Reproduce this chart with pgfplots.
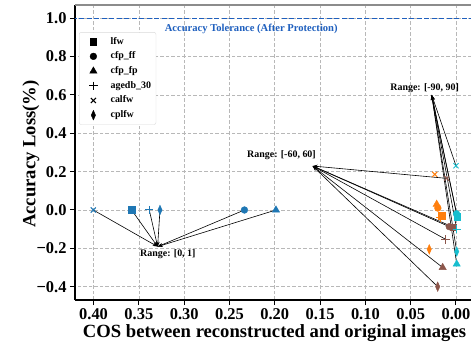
\documentclass[border=0pt]{standalone}
\usepackage{fontspec}
\setmainfont{Liberation Serif}
\usepackage{pgfplots}
\pgfplotsset{compat=1.18}
\usetikzlibrary{arrows.meta}
\definecolor{tblue}{HTML}{1F77B4}
\definecolor{torange}{HTML}{FF7F0E}
\definecolor{tbrown}{HTML}{8C564B}
\definecolor{tcyan}{HTML}{17BECF}
\definecolor{tolblue}{RGB}{30,95,190}
\pgfplotsset{
 msq/.style={only marks, mark=square*, mark size=3.3bp, forget plot},
 mci/.style={only marks, mark=*, mark size=3.4bp, forget plot},
 mtr/.style={only marks, mark=triangle*, mark size=4.2bp, forget plot},
 mpl/.style={only marks, mark=+, mark size=4.2bp, mark options={line width=1bp}, forget plot},
 mx/.style={only marks, mark=x, mark size=3.6bp, mark options={line width=1bp}, forget plot},
 mdi/.style={only marks, mark=diamond*, mark size=4.8bp, mark options={xscale=0.6}, forget plot},
 arr/.style={black, line width=0.6bp, -{Stealth[length=5bp,width=3.5bp]}, forget plot},
}
\begin{document}
\begin{tikzpicture}
\begin{axis}[name=ax, scale only axis, width=397bp, height=295bp,
 x dir=reverse, xmin=-0.01766, xmax=0.4205, ymin=-0.4695, ymax=1.0694,
 axis x line*=bottom, axis y line*=left,
 axis line style={black, line width=1.2bp},
 tick align=outside, major tick length=5bp, tick style={black, line width=1bp},
 xtick={0,0.05,0.1,0.15,0.2,0.25,0.3,0.35,0.4},
 xticklabels={0.00,0.05,0.10,0.15,0.20,0.25,0.30,0.35,0.40},
 ytick={-0.4,-0.2,0,0.2,0.4,0.6,0.8,1.0},
 yticklabels={−0.4,−0.2,0.0,0.2,0.4,0.6,0.8,1.0},
 ticklabel style={font=\fontsize{16.5}{16.5}\selectfont\bfseries},
 grid=major, major grid style={dash pattern=on 3.5bp off 2bp, black!28, line width=0.6bp},
 legend style={at={(0.0101,0.908)}, anchor=north west, draw=black!15, fill=white,
   rounded corners=2bp, font=\fontsize{10}{10}\selectfont\bfseries,
   row sep=0bp, nodes={text height=7bp, text depth=2bp, inner ysep=2.85bp}},
 legend cell align=left,
 legend image code/.code={\path (0bp,0bp) (26bp,0bp); \draw[#1] plot coordinates {(11bp,0bp)};},
]
\addlegendimage{only marks, mark=square*, mark size=3.3bp, black}\addlegendentry{lfw}
\addlegendimage{only marks, mark=*, mark size=3.4bp, black}\addlegendentry{cfp\_ff}
\addlegendimage{only marks, mark=triangle*, mark size=4.2bp, black}\addlegendentry{cfp\_fp}
\addlegendimage{only marks, mark=+, mark size=4.2bp, black, mark options={line width=1bp}}\addlegendentry{agedb\_30}
\addlegendimage{only marks, mark=x, mark size=3.6bp, black, mark options={line width=1bp}}\addlegendentry{calfw}
\addlegendimage{only marks, mark=diamond*, mark size=4.8bp, black, mark options={xscale=0.6}}\addlegendentry{cplfw}

% tolerance line
\addplot[tolblue, line width=1.6bp, dash pattern=on 5bp off 2.5bp, forget plot] coordinates {(-0.02,1) (0.43,1)};

% Range [0,1] (blue)
\addplot[tblue, msq] coordinates {(0.358,0)};
\addplot[tblue, mci] coordinates {(0.2335,0)};
\addplot[tblue, mtr] coordinates {(0.1987,0)};
\addplot[tblue, mpl] coordinates {(0.3385,0)};
\addplot[tblue, mx] coordinates {(0.4003,0)};
\addplot[tblue, mdi] coordinates {(0.3267,0)};

% orange
\addplot[torange, mx] coordinates {(0.0235,0.186)};
\addplot[torange, mtr] coordinates {(0.0213,0.030)};
\addplot[torange, mci] coordinates {(0.0200,0.010)};
\addplot[torange, mpl] coordinates {(0.0170,-0.040)};
\addplot[torange, msq] coordinates {(0.0158,-0.031)};
\addplot[torange, mdi] coordinates {(0.0295,-0.205)};

% brown (Range [-60,60])
\addplot[tbrown, mx] coordinates {(0.0103,0.165)};
\addplot[tbrown, mci] coordinates {(0.0074,-0.087)};
\addplot[tbrown, msq] coordinates {(0.0033,-0.089)};
\addplot[tbrown, mpl] coordinates {(0.0114,-0.153)};
\addplot[tbrown, mtr] coordinates {(0.0147,-0.300)};
\addplot[tbrown, mdi] coordinates {(0.0202,-0.400)};

% cyan (Range [-90,90])
\addplot[tcyan, mx] coordinates {(0.0,0.231)};
\addplot[tcyan, msq] coordinates {(-0.0014,-0.035)};
\addplot[tcyan, mci] coordinates {(-0.0006,-0.020)};
\addplot[tcyan, mpl] coordinates {(-0.0008,-0.100)};
\addplot[tcyan, mdi] coordinates {(-0.0008,-0.217)};
\addplot[tcyan, mtr] coordinates {(-0.0008,-0.282)};

% arrows Range [0,1]
\addplot[arr] coordinates {(0.4003,0) (0.3293,-0.191)};
\addplot[arr] coordinates {(0.358,0) (0.3293,-0.191)};
\addplot[arr] coordinates {(0.3385,0) (0.3293,-0.191)};
\addplot[arr] coordinates {(0.3267,0) (0.3293,-0.191)};
\addplot[arr] coordinates {(0.2335,0) (0.3293,-0.191)};
\addplot[arr] coordinates {(0.1987,0) (0.3293,-0.191)};
% arrows Range [-60,60]
\addplot[arr] coordinates {(0.0103,0.165) (0.1582,0.2295)};
\addplot[arr] coordinates {(0.0074,-0.087) (0.1582,0.2295)};
\addplot[arr] coordinates {(0.0033,-0.089) (0.1582,0.2295)};
\addplot[arr] coordinates {(0.0114,-0.153) (0.1582,0.2295)};
\addplot[arr] coordinates {(0.0147,-0.300) (0.1582,0.2295)};
\addplot[arr] coordinates {(0.0202,-0.400) (0.1582,0.2295)};
% arrows Range [-90,90]
\addplot[arr] coordinates {(0.0,0.231) (0.0268,0.600)};
\addplot[arr] coordinates {(-0.0014,-0.035) (0.0268,0.600)};
\addplot[arr] coordinates {(-0.0006,-0.020) (0.0268,0.600)};
\addplot[arr] coordinates {(-0.0008,-0.100) (0.0268,0.600)};
\addplot[arr] coordinates {(-0.0008,-0.217) (0.0268,0.600)};
\addplot[arr] coordinates {(-0.0008,-0.282) (0.0268,0.600)};

\node[font=\fontsize{10}{10}\selectfont\bfseries] at (axis cs:0.318,-0.2295) {Range: [0, 1]};
\node[font=\fontsize{10}{10}\selectfont\bfseries] at (axis cs:0.1926,0.2853) {Range: [-60, 60]};
\node[font=\fontsize{10}{10}\selectfont\bfseries] at (axis cs:0.0346,0.635) {Range: [-90, 90]};
\node[tolblue, font=\fontsize{10.6}{10.6}\selectfont\bfseries] at (axis cs:0.226,0.943) {Accuracy Tolerance (After Protection)};
\end{axis}
\draw[black!45, line width=1.2bp] (ax.north west) -- (ax.north east);
\node[font=\fontsize{18.7}{18.7}\selectfont\bfseries] at ([xshift=199.5bp,yshift=-33.5bp]ax.south west) {COS between reconstructed and original images};
\node[rotate=90, font=\fontsize{18.7}{18.7}\selectfont\bfseries] at ([xshift=-44bp,yshift=146bp]ax.south west) {Accuracy Loss(\%)};
\pgfresetboundingbox
\path[use as bounding box] ([xshift=-75bp,yshift=-47bp]ax.south west) rectangle ([xshift=396bp,yshift=300bp]ax.south west);
\end{tikzpicture}
\end{document}
